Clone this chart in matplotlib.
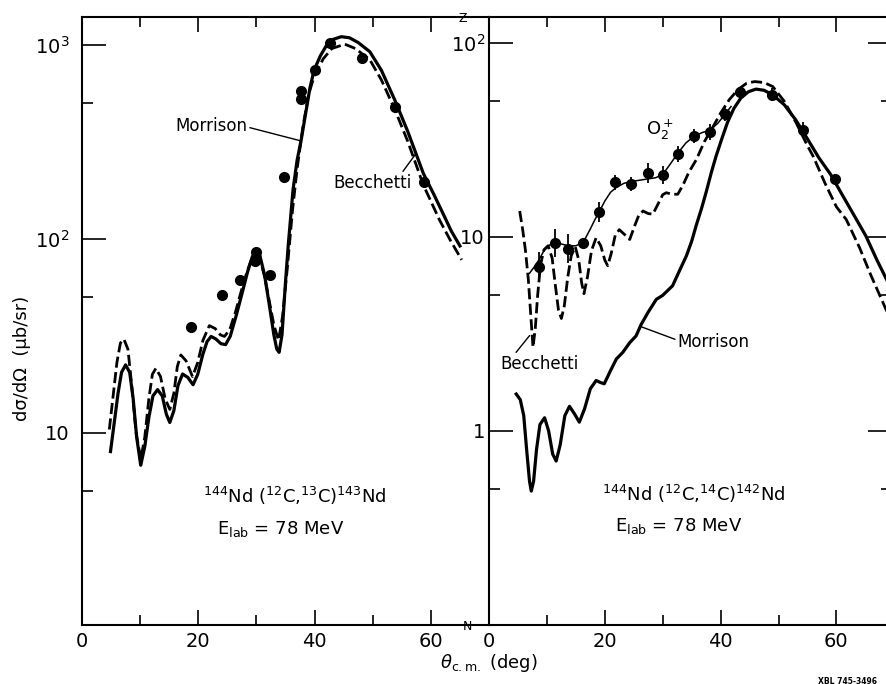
import matplotlib.pyplot as plt

plt.rcParams['font.family'] = ['DejaVu Sans']
plt.rcParams['mathtext.fontset'] = 'dejavusans'

# --- left panel: 144Nd(12C,13C)143Nd (deg, ub/sr) ---
c13_morrison_x = [4.9, 5.5, 6.2, 6.8, 7.5, 8.2, 8.8, 9.4, 10.1, 10.8, 11.5, 12.2, 13.0, 13.8,
                  14.5, 15.1, 15.8, 16.5, 17.3, 18.2, 19.1, 19.9, 20.8, 21.5, 22.2, 23.0, 23.9,
                  24.7, 25.5, 26.5, 27.5, 28.5, 29.3, 29.9, 30.6, 31.4, 32.2, 33.0, 33.5, 33.9,
                  34.4, 35.0, 35.5, 36.3, 37.0, 37.7, 38.5, 39.2, 39.9, 41.0, 42.0, 43.2, 44.6,
                  46.0, 47.5, 49.5, 51.5, 53.8, 56.0, 58.7, 60.5, 62.1, 63.5, 65.0]
c13_morrison_y = [8.0, 11, 16, 20.5, 22.4, 20.5, 15, 9.5, 6.8, 8.5, 12, 15.5, 16.7, 15.5,
                  12.5, 11.3, 13, 17.5, 20.1, 19.3, 17.7, 20, 25.5, 29.5, 31.4, 30.5, 28.8,
                  28.5, 31.5, 40, 52, 68, 81, 86, 82, 65, 46, 32, 27, 26,
                  32, 60, 95, 180, 255, 324, 450, 600, 740, 880, 990, 1070, 1104,
                  1090, 1030, 924, 740, 520, 360, 218, 170, 135, 110, 92]

c13_becchetti_x = [4.7, 5.3, 6.0, 6.6, 7.2, 7.9, 8.6, 9.3, 10.1, 10.8, 11.5, 12.1, 12.7, 13.5,
                   14.3, 15.1, 15.8, 16.4, 17.0, 17.9, 19.0, 19.9, 20.8, 21.9, 22.9, 23.8, 24.5,
                   25.4, 26.4, 27.4, 28.4, 29.2, 29.9, 30.6, 31.4, 32.2, 33.0, 33.8, 34.5, 35.3,
                   36.2, 37.0, 38.0, 39.0, 40.0, 41.5, 43.0, 45.2, 47.0, 49.5, 51.5, 53.8, 56.0,
                   58.7, 61.5, 63.3, 65.3]
c13_becchetti_y = [10.4, 15, 23, 29, 30.4, 27, 17, 10, 7.3, 9.5, 15, 20, 21.5, 19.5,
                   15, 13.2, 16, 22, 25.2, 23.5, 19.5, 23, 30, 35.7, 34.5, 32, 31.4,
                   34, 42, 54, 68, 79, 82.8, 79, 64, 48, 36, 30, 40, 70,
                   140, 230, 380, 560, 700, 850, 960, 1010, 960, 840, 660, 465, 320,
                   190, 125, 99, 78]

c13_data_x = [18.7, 24.0, 27.2, 29.9, 29.7, 32.4, 34.7, 37.7, 37.7, 40.0, 42.6, 48.2, 53.8, 58.8]
c13_data_y = [35.3, 51.4, 61.5, 86, 77.3, 65.2, 208, 580, 527, 743, 1028, 853, 477, 197]

# --- right panel: 144Nd(12C,14C)142Nd ---
c14_morrison_x = [4.7, 5.4, 6.0, 6.5, 7.0, 7.3, 7.7, 8.2, 8.8, 9.6, 10.3, 11.0, 11.6, 12.3,
                  13.1, 13.9, 14.8, 15.6, 16.5, 17.5, 18.5, 19.2, 19.9, 21.0, 22.0, 23.1, 24.3,
                  25.4, 26.3, 27.5, 28.9, 30.0, 31.7, 33.0, 34.1, 35.0, 35.8, 36.7, 37.5, 38.4,
                  39.2, 40.2, 41.2, 42.3, 43.5, 44.8, 46.1, 47.5, 49.0, 51.0, 53.0, 55.0, 57.0,
                  59.0, 61.0, 63.0, 65.1, 67.0, 69.6]
c14_morrison_y = [1.55, 1.45, 1.2, 0.8, 0.55, 0.49, 0.55, 0.8, 1.08, 1.17, 1.0, 0.76, 0.70, 0.85,
                  1.2, 1.34, 1.22, 1.11, 1.3, 1.65, 1.82, 1.78, 1.75, 2.05, 2.35, 2.54, 2.85,
                  3.09, 3.55, 4.1, 4.77, 5.0, 5.6, 6.8, 8.0, 9.5, 11.5, 14, 17, 21.5,
                  26, 32, 39, 46, 52, 56, 57.8, 57, 54, 48, 40, 32, 25.5,
                  21, 16.5, 13, 10.1, 7.6, 5.3]

c14_becchetti_x = [5.3, 5.8, 6.3, 6.8, 7.2, 7.6, 8.0, 8.4, 8.9, 9.5, 10.2, 10.9, 11.5, 12.0,
                   12.5, 13.0, 13.6, 14.2, 14.9, 15.5, 16.0, 16.4, 17.0, 17.7, 18.5, 19.3, 20.0,
                   20.5, 21.1, 21.8, 22.5, 23.4, 24.3, 25.2, 25.9, 26.6, 27.5, 28.3, 29.3, 30.0,
                   30.6, 31.6, 32.6, 33.5, 34.5, 35.8, 37.2, 38.7, 40.0, 41.5, 43.0, 44.5, 45.9,
                   47.5, 49.0, 51.0, 53.0, 55.0, 56.0, 58.0, 60.0, 61.7, 64.0, 66.0, 69.6]
c14_becchetti_y = [13.6, 11, 8.5, 6, 4, 2.7, 3.4, 5, 7.2, 8.6, 9.0, 7.8, 5.5, 4.2,
                   3.8, 4.4, 6.2, 8.0, 8.9, 7.6, 5.8, 5.1, 6.2, 8.5, 9.9, 9.0, 7.6,
                   7.1, 8.2, 10.2, 10.9, 10.3, 9.7, 11.5, 13.0, 13.6, 13.2, 13.1, 15.0, 16.5,
                   16.9, 16.6, 16.6, 18.5, 21.5, 25, 31, 37, 43.5, 51, 57.5, 62, 63.2,
                   62.5, 59.6, 50, 39, 29.5, 26, 19, 14.3, 12.3, 8.8, 6.3, 3.6]

c14_fit_x = [7.0, 7.8, 8.6, 9.5, 10.5, 11.5, 12.5, 13.7, 15.0, 16.3, 17.5, 18.3, 19.0, 20.0,
             21.0, 22.0, 23.3, 24.6, 26.0, 27.4, 28.8, 30.0, 31.2, 32.6, 34.0, 35.4, 36.8,
             38.2, 39.5, 40.8, 41.8]
c14_fit_y = [6.5, 7.0, 7.6, 8.5, 9.1, 9.3, 9.2, 9.0, 9.0, 9.4, 11.0, 12.3, 13.4, 15.3,
             17.0, 18.0, 18.9, 19.3, 19.6, 19.9, 20.2, 21.0, 23.5, 27.0, 30.5, 33.0, 34.5,
             35.5, 38.5, 43.0, 47]

c14_data_x = [8.6, 11.4, 13.7, 16.3, 19.0, 21.7, 24.6, 27.4, 30.0, 32.6, 35.4, 38.2, 40.8,
              43.4, 48.9, 54.2, 59.8]
c14_data_y = [7.0, 9.3, 8.7, 9.3, 13.4, 19.1, 18.7, 21.4, 20.8, 26.8, 33.2, 34.8, 43.0,
              55.7, 54.1, 35.7, 19.8]
# multiplicative size of each error bar
c14_err_factor = [1.19, 1.18, 1.19, 1.06, 1.125, 1.09, 1.09, 1.125, 1.11, 1.10, 1.09, 1.10,
                  1.09, 1.07, 1.08, 1.09, 1.06]

W, H = 887, 684
fig = plt.figure(figsize=(W / 100, H / 100), dpi=100)
bottom, height = 1 - 625 / H, (625 - 17) / H
axL = fig.add_axes([82 / W, bottom, (489 - 82) / W, height])
axR = fig.add_axes([489 / W, bottom, (892 - 489) / W, height])

thick = dict(color='black', lw=2.3)
dashed = dict(color='black', lw=2.0, dashes=(4, 1.6))

# left panel
axL.plot(c13_morrison_x, c13_morrison_y, **thick)
axL.plot(c13_becchetti_x, c13_becchetti_y, **dashed)
axL.plot(c13_data_x, c13_data_y, 'o', color='black', ms=7)

# right panel
axR.plot(c14_morrison_x, c14_morrison_y, **thick)
axR.plot(c14_becchetti_x, c14_becchetti_y, **dashed)
axR.plot(c14_fit_x, c14_fit_y, color='black', lw=1.1)
err_lo = [y - y / f for y, f in zip(c14_data_y, c14_err_factor)]
err_hi = [y * f - y for y, f in zip(c14_data_y, c14_err_factor)]
axR.errorbar(c14_data_x, c14_data_y, yerr=[err_lo, err_hi], fmt='o', color='black',
             ms=7, elinewidth=1.3, capsize=0)

for ax in (axL, axR):
    ax.set_yscale('log')
    ax.set_xticks([0, 20, 40, 60])
    ax.set_xticks([10, 30, 50], minor=True)
    ax.tick_params(axis='x', which='major', direction='in', top=True, length=10.5,
                   width=1.2, labelsize=14, pad=5)
    ax.tick_params(axis='x', which='minor', direction='in', top=True, length=7, width=1.2)
    ax.tick_params(axis='y', which='major', direction='in', length=17, width=1.2,
                   labelsize=14)
    ax.tick_params(axis='y', which='minor', direction='in', length=8, width=1.2)
    for s in ax.spines.values():
        s.set_linewidth(1.5)

axL.set_xlim(0, 70)
axL.set_ylim(1.02, 1395)
axL.set_yticks([10, 100, 1000])
axL.set_yticklabels(['10', '$10^2$', '$10^3$'])
axL.set_yticks([5, 50, 500], minor=True)
axL.set_yticklabels([], minor=True)
axL.tick_params(axis='y', which='major', pad=9)
axL.spines['right'].set_visible(False)

axR.set_xlim(0, 69.6)
axR.set_ylim(0.1, 136)
axR.set_yticks([1, 10, 100])
axR.set_yticklabels(['1', '10', '$10^2$'])
axR.set_yticks([0.5, 5, 50], minor=True)
axR.set_yticklabels([], minor=True)
axR.tick_params(axis='y', which='both', right=True, pad=3)

# labels
txt = dict(fontsize=13, color='black')
axL.annotate('Morrison', xy=(37.7, 320), xytext=(28.4, 382), ha='right', va='center',
             fontsize=12, arrowprops=dict(arrowstyle='-', lw=1, relpos=(1, 0.45),
                                          shrinkA=0, shrinkB=0))
axL.annotate('Becchetti', xy=(57.5, 277), xytext=(43.3, 194), ha='left', va='center',
             fontsize=12, arrowprops=dict(arrowstyle='-', lw=1, relpos=(0.85, 0.95),
                                          shrinkA=0, shrinkB=0))
axL.text(36.6, 4.73, r'$^{144}$Nd ($^{12}$C,$^{13}$C)$^{143}$Nd', ha='center', va='center', **txt)
axL.text(34.1, 3.2, r'E$_{\mathrm{lab}}$ = 78 MeV', ha='center', va='center', **txt)

axR.annotate('Morrison', xy=(26.0, 3.47), xytext=(32.6, 2.87), ha='left', va='center',
             fontsize=12, arrowprops=dict(arrowstyle='-', lw=1, relpos=(0, 0.6),
                                          shrinkA=0, shrinkB=0))
axR.annotate('Becchetti', xy=(7.0, 3.1), xytext=(2.0, 2.21), ha='left', va='center',
             fontsize=12, arrowprops=dict(arrowstyle='-', lw=1, relpos=(0.16, 0.95),
                                          shrinkA=0, shrinkB=0))
axR.text(29.6, 35.7, r'O$_2^+$', ha='center', va='center', fontsize=13)
axR.text(35.3, 0.474, r'$^{144}$Nd ($^{12}$C,$^{14}$C)$^{142}$Nd', ha='center', va='center', **txt)
axR.text(32.8, 0.322, r'E$_{\mathrm{lab}}$ = 78 MeV', ha='center', va='center', **txt)

fig.text(22 / W, 1 - 358 / H, 'd\u03c3/d\u03a9  (\u03bcb/sr)', rotation=90,
         ha='center', va='center', fontsize=13)
fig.text(440 / W, 1 - 668 / H, r'$\theta_{\mathrm{c.m.}}$ (deg)', ha='left', va='baseline',
         fontsize=13)
fig.text(848 / W, 1 - 681 / H, 'XBL 745-3496', ha='center', va='center', fontsize=5.5,
         fontweight='bold')

# axis break marks, drawn across the top and bottom spines
fig.text(463 / W, 1 - 21.5 / H, 'Z', ha='center', va='baseline', fontsize=9)
fig.text(467 / W, 1 - 629.5 / H, 'N', ha='center', va='baseline', fontsize=9)

fig.savefig('out.png', dpi=100, facecolor='white')
